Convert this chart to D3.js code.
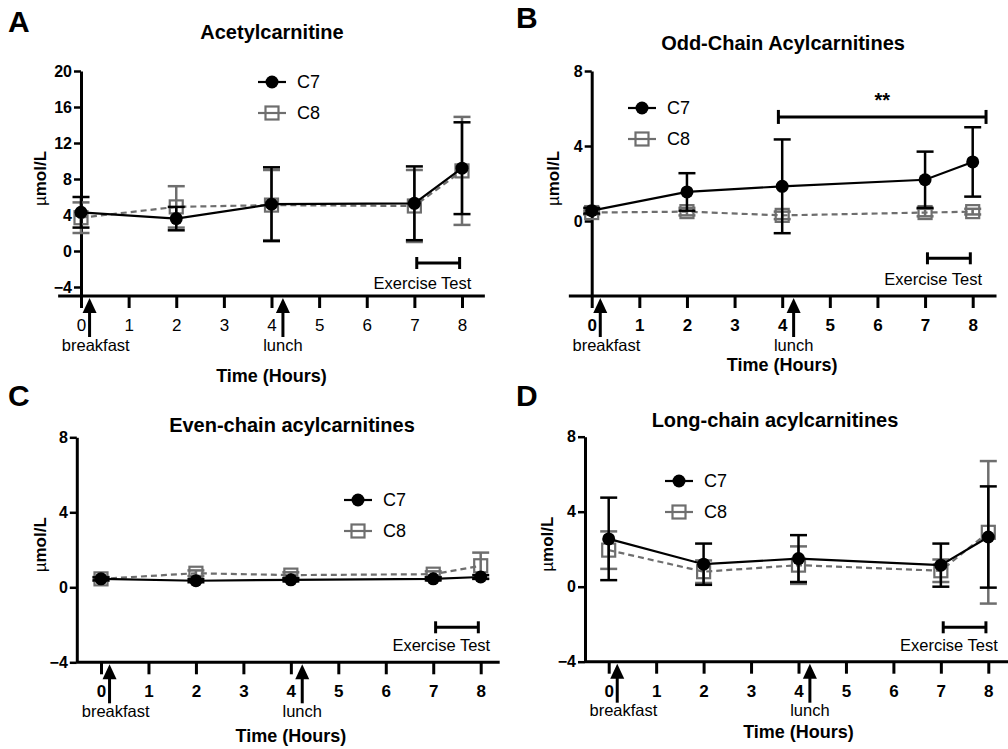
<!DOCTYPE html>
<html>
<head>
<meta charset="utf-8">
<script src="https://cdn.jsdelivr.net/npm/d3@7"></script>
<style>
   body { margin: 0; background: #fff; }
   svg { font-family: "Liberation Sans", Arial, sans-serif; }
</style>
</head>
<body>
<div id="chart"></div>
<script>
// Sample times (hours)
const hours = [0, 2, 4, 7, 8]
const xTicks = [0, 1, 2, 3, 4, 5, 6, 7, 8]
const seriesNames = ["C7", "C8"]

// A: acetylcarnitine (umol/L), mean and error
const acetylC7 = [4.3, 3.6, 5.2, 5.3, 9.2]
const acetylC7Err = [1.7, 1.3, 4.1, 4.1, 5.1]
const acetylC8 = [3.7, 4.9, 5.1, 5.0, 8.9]
const acetylC8Err = [1.7, 2.3, 3.9, 4.0, 6.0]

// B: odd-chain acylcarnitines
const oddC7 = [0.55, 1.55, 1.85, 2.2, 3.15]
const oddC7Err = [0.15, 1.0, 2.5, 1.5, 1.85]
const oddC8 = [0.45, 0.5, 0.3, 0.45, 0.5]
const oddC8Err = [0.1, 0.2, 0.2, 0.2, 0.15]

// C: even-chain acylcarnitines
const evenC7 = [0.45, 0.35, 0.4, 0.45, 0.55]
const evenC7Err = [0.08, 0.08, 0.08, 0.08, 0.1]
const evenC8 = [0.45, 0.75, 0.65, 0.7, 1.15]
const evenC8Err = [0.1, 0.15, 0.15, 0.15, 0.7]

// D: long-chain acylcarnitines
const longC7 = [2.55, 1.2, 1.5, 1.15, 2.65]
const longC7Err = [2.2, 1.1, 1.25, 1.15, 2.7]
const longC8 = [1.95, 0.8, 1.15, 0.85, 2.9]
const longC8Err = [1.0, 0.6, 1.0, 0.6, 3.8]

// Meal times and exercise window (hours)
const mealTimes = [0.18, 4.24]
const mealLabels = ["breakfast", "lunch"]
const exerciseWindow = [7.05, 7.95]

const grey = "#6e6e6e"

const svg = d3.select("#chart").append("svg")
   .attr("width", 1008)
   .attr("height", 749)

const panels = [
   {
      letter: "A", letterPos: [8, 32], title: "Acetylcarnitine", titlePos: [272, 39],
      xr: [81, 462], axisX: [-0.48, 8.48], yAxisAt: 0,
      yd: [-5, 20], yr: [296, 71], yTicks: [-4, 0, 4, 8, 12, 16, 20],
      c7: acetylC7, c7e: acetylC7Err, c8: acetylC8, c8e: acetylC8Err,
      legend: [272, 82], exY: 33, exTextY: 13, timeY: 382, tickBold: false,
      yLabelX: 40
   },
   {
      letter: "B", letterPos: [516, 28], title: "Odd-Chain Acylcarnitines", titlePos: [783, 50],
      xr: [591.7, 972.7], axisX: [-0.48, 8.5], yAxisAt: 0,
      yd: [-4, 8], yr: [296, 71], yTicks: [0, 4, 8],
      c7: oddC7, c7e: oddC7Err, c8: oddC8, c8e: oddC8Err,
      legend: [642, 108], exY: 37.7, exTextY: 16.4, timeY: 371, tickBold: true,
      yLabelX: 553, sig: [3.92, 8.28, 5.55]
   },
   {
      letter: "C", letterPos: [8, 406], title: "Even-chain acylcarnitines", titlePos: [292, 432],
      xr: [101, 480.7], axisX: [-0.51, 8.4], yAxisAt: -0.51,
      yd: [-4, 8], yr: [662.3, 437.3], yTicks: [-4, 0, 4, 8],
      c7: evenC7, c7e: evenC7Err, c8: evenC8, c8e: evenC8Err,
      legend: [358, 500], exY: 35, exTextY: 16.6, timeY: 742, tickBold: true,
      yLabelX: 40
   },
   {
      letter: "D", letterPos: [516, 406], title: "Long-chain acylcarnitines", titlePos: [775, 427],
      xr: [608.7, 988.3], axisX: [-0.5, 8.42], yAxisAt: -0.5,
      yd: [-4, 8], yr: [661.7, 436.7], yTicks: [-4, 0, 4, 8],
      c7: longC7, c7e: longC7Err, c8: longC8, c8e: longC8Err,
      legend: [679, 481], exY: 34.4, exTextY: 16, timeY: 738, tickBold: true,
      yLabelX: 547
   }
]

panels.forEach(drawPanel)

function drawPanel(p) {
   let x = d3.scaleLinear().domain([0, 8]).range(p.xr)
   let y = d3.scaleLinear().domain(p.yd).range(p.yr)
   let g = svg.append("g")
   let axisY = p.yr[0]
   let yAxisX = x(p.yAxisAt)

   // Panel letter and title
   g.append("text").text(p.letter)
      .attr("x", p.letterPos[0]).attr("y", p.letterPos[1])
      .attr("font-size", 30).attr("font-weight", "bold")
   g.append("text").text(p.title)
      .attr("x", p.titlePos[0]).attr("y", p.titlePos[1])
      .attr("text-anchor", "middle")
      .attr("font-size", 20).attr("font-weight", "bold")

   // X axis line
   g.append("line")
      .attr("x1", x(p.axisX[0])).attr("x2", x(p.axisX[1]))
      .attr("y1", axisY).attr("y2", axisY)
      .attr("stroke", "#000").attr("stroke-width", 3)

   let xAxis = g.append("g")
      .attr("transform", "translate(0," + axisY + ")")
      .call(d3.axisBottom(x).tickValues(xTicks).tickSize(12).tickPadding(11).tickFormat(d3.format("d")))
   xAxis.select(".domain").remove()
   xAxis.selectAll("line").attr("stroke-width", 3)
   xAxis.selectAll("text")
      .attr("font-size", 17)
      .attr("font-family", "Liberation Sans, Arial, sans-serif")
      .attr("font-weight", p.tickBold ? "bold" : "normal")
      .attr("fill", "#000")

   // Y axis
   let yAxis = g.append("g")
      .attr("transform", "translate(" + yAxisX + ",0)")
      .call(d3.axisLeft(y).tickValues(p.yTicks).tickSize(7).tickSizeOuter(0).tickPadding(2))
   yAxis.select(".domain").attr("stroke-width", 3)
   yAxis.selectAll("line").attr("stroke-width", 2.5)
   yAxis.selectAll("text")
      .attr("font-size", 16)
      .attr("font-family", "Liberation Sans, Arial, sans-serif")
      .attr("font-weight", "bold")
      .attr("fill", "#000")

   // Y label
   let yl = g.append("text")
      .attr("transform", "translate(" + p.yLabelX + "," + ((p.yr[0] + p.yr[1]) / 2 - 5) + ") rotate(-90)")
      .attr("text-anchor", "middle")
      .attr("dy", "0.35em")
      .attr("font-size", 17)
   yl.append("tspan").text("µ").attr("font-weight", "normal")
   yl.append("tspan").text("mol/L").attr("font-weight", "bold")

   // X label
   g.append("text").text("Time (Hours)")
      .attr("x", x(4)).attr("y", p.timeY)
      .attr("text-anchor", "middle")
      .attr("font-size", 18).attr("font-weight", "bold")

   // Meal arrows
   mealTimes.forEach(function(t, i) {
      let ax = x(t)
      g.append("line")
         .attr("x1", ax).attr("x2", ax)
         .attr("y1", axisY + 12).attr("y2", axisY + 41)
         .attr("stroke", "#000").attr("stroke-width", 3)
      g.append("path")
         .attr("d", "M" + ax + "," + (axisY + 2) + " L" + (ax - 7) + "," + (axisY + 17) + " L" + (ax + 7) + "," + (axisY + 17) + " Z")
         .attr("fill", "#000")
      g.append("text").text(mealLabels[i])
         .attr("x", i == 0 ? x(0.31) : ax)
         .attr("y", axisY + 49)
         .attr("dy", "0.35em")
         .attr("text-anchor", "middle")
         .attr("font-size", 16.5)
   })

   // Exercise test bracket
   let ey = axisY - p.exY
   g.append("line")
      .attr("x1", x(exerciseWindow[0])).attr("x2", x(exerciseWindow[1]))
      .attr("y1", ey).attr("y2", ey)
      .attr("stroke", "#000").attr("stroke-width", 3)
   exerciseWindow.forEach(function(t) {
      g.append("line")
         .attr("x1", x(t)).attr("x2", x(t))
         .attr("y1", ey - 6).attr("y2", ey + 6)
         .attr("stroke", "#000").attr("stroke-width", 3)
   })
   g.append("text").text("Exercise Test")
      .attr("x", x(7.17)).attr("y", axisY - p.exTextY)
      .attr("dy", "0.35em")
      .attr("text-anchor", "middle")
      .attr("font-size", 16.5)

   // Significance bracket
   if(p.sig) {
      let sy = y(p.sig[2])
      g.append("line")
         .attr("x1", x(p.sig[0])).attr("x2", x(p.sig[1]))
         .attr("y1", sy).attr("y2", sy)
         .attr("stroke", "#000").attr("stroke-width", 3)
      ;[p.sig[0], p.sig[1]].forEach(function(t) {
         g.append("line")
            .attr("x1", x(t)).attr("x2", x(t))
            .attr("y1", sy - 7).attr("y2", sy + 7)
            .attr("stroke", "#000").attr("stroke-width", 3)
      })
      g.append("text").text("**")
         .attr("x", x((p.sig[0] + p.sig[1]) / 2)).attr("y", sy - 10)
         .attr("text-anchor", "middle")
         .attr("font-size", 20).attr("font-weight", "bold")
   }

   // Series: C8 first, C7 on top
   let series = [
      { vals: p.c8, errs: p.c8e, color: grey, dash: "6,4", marker: "square" },
      { vals: p.c7, errs: p.c7e, color: "#000", dash: null, marker: "circle" }
   ]

   let line = d3.line()
      .x(function(d) { return x(d[0]) })
      .y(function(d) { return y(d[1]) })

   series.forEach(function(s) {
      let pts = hours.map(function(h, i) { return [h, s.vals[i], s.errs[i]] })

      g.append("path")
         .datum(pts)
         .attr("d", line)
         .attr("fill", "none")
         .attr("stroke", s.color)
         .attr("stroke-width", 2.2)
         .attr("stroke-dasharray", s.dash)

      let eb = g.selectAll(null).data(pts).enter().append("g")
         .attr("stroke", s.color).attr("stroke-width", 2.5)
      eb.append("line")
         .attr("x1", function(d) { return x(d[0]) })
         .attr("x2", function(d) { return x(d[0]) })
         .attr("y1", function(d) { return y(d[1] - d[2]) })
         .attr("y2", function(d) { return y(d[1] + d[2]) })
      eb.append("line")
         .attr("x1", function(d) { return x(d[0]) - 8.5 })
         .attr("x2", function(d) { return x(d[0]) + 8.5 })
         .attr("y1", function(d) { return y(d[1] + d[2]) })
         .attr("y2", function(d) { return y(d[1] + d[2]) })
      eb.append("line")
         .attr("x1", function(d) { return x(d[0]) - 8.5 })
         .attr("x2", function(d) { return x(d[0]) + 8.5 })
         .attr("y1", function(d) { return y(d[1] - d[2]) })
         .attr("y2", function(d) { return y(d[1] - d[2]) })

      drawMarkers(g, s, pts.map(function(d) { return [x(d[0]), y(d[1])] }))
   })

   // Legend
   series.slice().reverse().forEach(function(s, i) {
      let lx = p.legend[0]
      let ly = p.legend[1] + i * 31
      g.append("line")
         .attr("x1", lx - 14).attr("x2", lx + 14)
         .attr("y1", ly).attr("y2", ly)
         .attr("stroke", s.color).attr("stroke-width", 2.2)
      drawMarkers(g, s, [[lx, ly]])
      g.append("text").text(seriesNames[i])
         .attr("x", lx + 25).attr("y", ly)
         .attr("dy", "0.35em")
         .attr("font-size", 18)
   })
}

function drawMarkers(g, s, coords) {
   if(s.marker == "circle") {
      g.selectAll(null).data(coords).enter().append("circle")
         .attr("cx", function(d) { return d[0] })
         .attr("cy", function(d) { return d[1] })
         .attr("r", 6.5)
         .attr("fill", "#000")
   } else {
      g.selectAll(null).data(coords).enter().append("rect")
         .attr("x", function(d) { return d[0] - 6.5 })
         .attr("y", function(d) { return d[1] - 6.5 })
         .attr("width", 13).attr("height", 13)
         .attr("fill", "none")
         .attr("stroke", grey)
         .attr("stroke-width", 2.2)
   }
}
</script>
</body>
</html>
